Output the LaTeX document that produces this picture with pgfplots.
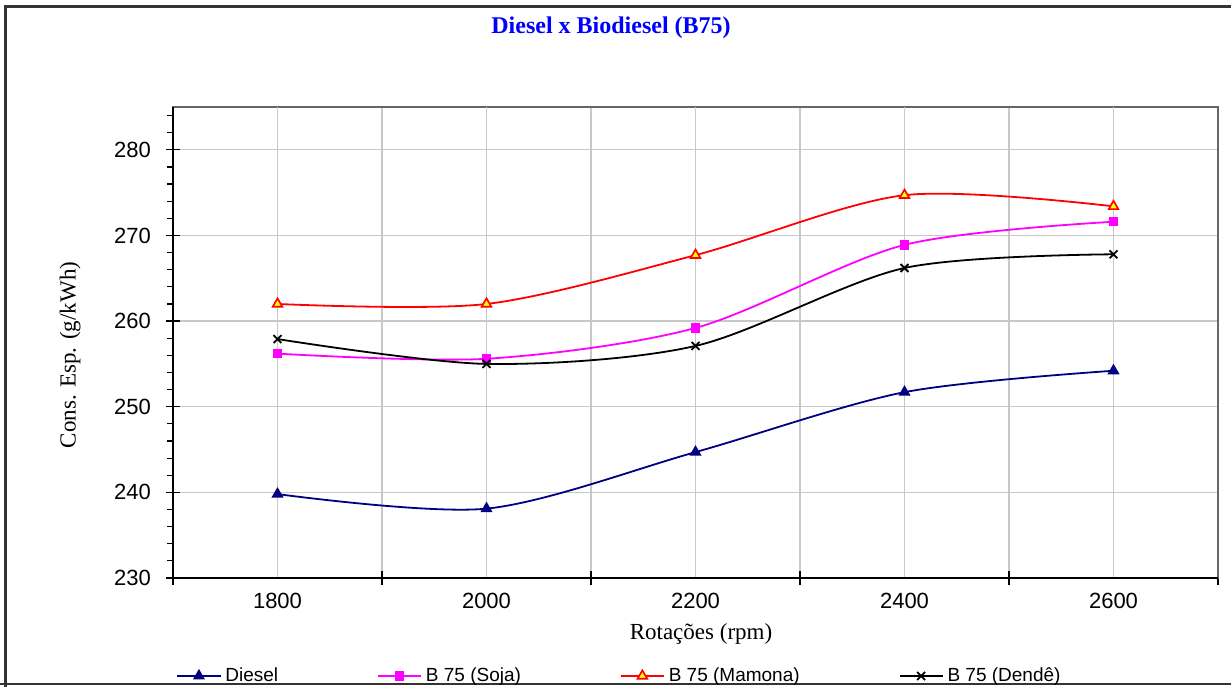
\documentclass[border=0pt]{standalone}
\usepackage{fontspec}
\setmainfont{Liberation Serif}
\newfontfamily\arial{Liberation Sans}
\usepackage{pgfplots}
\pgfplotsset{compat=1.18}
\definecolor{navyc}{RGB}{0,0,128}
\definecolor{magc}{RGB}{255,0,255}
\definecolor{redc}{RGB}{255,0,0}
\definecolor{yelc}{RGB}{255,255,0}
\definecolor{gridc}{RGB}{200,200,200}
\definecolor{titleblue}{RGB}{0,0,255}
\begin{document}
\begin{tikzpicture}[x=0.5pt,y=0.5pt]
\path[use as bounding box] (0,0) rectangle (1231,686);
\begin{scope}
\clip (0,0) rectangle (1231,686);
\draw[line width=1.1pt, black!80] (5.5,-10) -- (5.5,679.5) -- (1240,679.5);
\draw[line width=1.1pt, black!80] (0,2) -- (1240,2);
\begin{axis}[
  at={(86.5pt,54pt)}, anchor=south west,
  scale only axis, width=522.5pt, height=235.5pt,
  xmin=1700, xmax=2700, ymin=230, ymax=285,
  axis line style={draw=gray!80!black, line width=0.6pt},
  xtick={1700,1900,2100,2300,2500,2700}, xticklabels={},
  extra x ticks={1800,2000,2200,2400,2600},
  extra x tick style={major tick length=0pt, grid=major},
  ytick={230,240,...,280},
  minor ytick={232,234,...,284},
  xtick pos=bottom, ytick pos=left,
  tick align=center, major tick length=7pt, minor tick length=3pt,
  minor y tick style={xshift=-1.5pt},
  xmajorgrids, ymajorgrids,
  grid style={draw=gridc, line width=0.6pt},
  tick style={black, line width=0.6pt},
  tick label style={font=\arial\fontsize{11}{13}\selectfont},
  /pgf/number format/assume math mode=true,
  /pgf/number format/1000 sep={},
  yticklabel style={xshift=-4pt},
  xticklabel style={yshift=-4pt},
  legend style={at={(axis description cs:0.003,-0.208)}, anchor=west, draw=none, fill=none,
    font=\arial\fontsize{9.5}{11}\selectfont, inner sep=0pt,
    /tikz/every even column/.append style={column sep=47.5pt}},
  legend columns=4, legend cell align=left,
  legend image code/.code={\draw[mark repeat=2,mark phase=2] plot coordinates {(0pt,0pt) (10.75pt,0pt) (21.5pt,0pt)};},
  every axis plot/.append style={line width=0.9pt, smooth, tension=0.5},
  after end axis/.code={
    \draw[black, line width=0.7pt] (rel axis cs:0,1) -- (rel axis cs:0,0) -- (rel axis cs:1,0);
  },
]
\addplot[navyc, mark=triangle*, mark size=2.6pt, mark options={solid, fill=navyc}] coordinates {
(1800,239.8) (2000,238.1) (2200,244.7) (2400,251.7) (2600,254.2)};
\addlegendentry{Diesel}
\addplot[magc, mark=square*, mark size=1.9pt, mark options={solid, fill=magc, draw=magc}] coordinates {
(1800,256.2) (2000,255.6) (2200,259.2) (2400,268.9) (2600,271.6)};
\addlegendentry{B 75 (Soja)}
\addplot[redc, mark=triangle*, mark size=2.8pt, mark options={solid, fill=yelc, draw=redc, line width=0.8pt}] coordinates {
(1800,262.0) (2000,262.0) (2200,267.7) (2400,274.7) (2600,273.4)};
\addlegendentry{B 75 (Mamona)}
\addplot[black, mark=x, mark size=2.8pt, mark options={solid}] coordinates {
(1800,257.9) (2000,255.0) (2200,257.1) (2400,266.2) (2600,267.8)};
\addlegendentry{B 75 (Dendê)}
\end{axis}
\node[font=\bfseries\fontsize{12}{14}\selectfont, text=titleblue] at (611,658) {Diesel x Biodiesel (B75)};
\node[font=\fontsize{11.5}{13}\selectfont] at (701,52) {Rotações (rpm)};
\node[font=\fontsize{11.5}{13}\selectfont, rotate=90] at (70,331) {Cons. Esp. (g/kWh)};
\end{scope}
\end{tikzpicture}
\end{document}
